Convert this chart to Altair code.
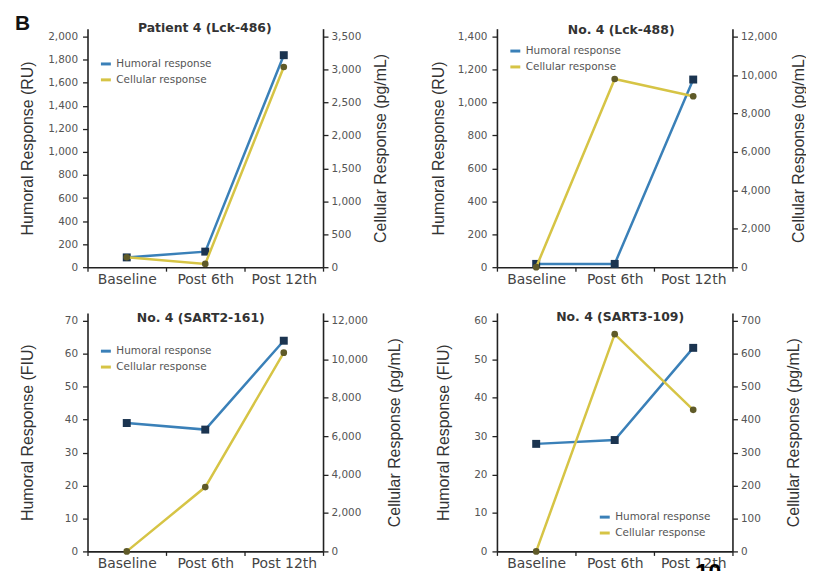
import altair as alt
import pandas as pd

# ---------------- data ----------------
time = ["Baseline", "Post 6th", "Post 12th"]

p1_title = "Patient 4 (Lck-486)"
p1_humoral = [85, 135, 1840]
p1_cellular = [150, 50, 3040]
p1_left_ticks = [0, 200, 400, 600, 800, 1000, 1200, 1400, 1600, 1800, 2000]
p1_right_ticks = [0, 500, 1000, 1500, 2000, 2500, 3000, 3500]

p2_title = "No. 4 (Lck-488)"
p2_humoral = [20, 20, 1140]
p2_cellular = [0, 9800, 8900]
p2_left_ticks = [0, 200, 400, 600, 800, 1000, 1200, 1400]
p2_right_ticks = [0, 2000, 4000, 6000, 8000, 10000, 12000]

p3_title = "No. 4 (SART2-161)"
p3_humoral = [39, 37, 64]
p3_cellular = [0, 3350, 10350]
p3_left_ticks = [0, 10, 20, 30, 40, 50, 60, 70]
p3_right_ticks = [0, 2000, 4000, 6000, 8000, 10000, 12000]

p4_title = "No. 4 (SART3-109)"
p4_humoral = [28, 29, 53]
p4_cellular = [0, 660, 430]
p4_left_ticks = [0, 10, 20, 30, 40, 50, 60]
p4_right_ticks = [0, 100, 200, 300, 400, 500, 600, 700]

series = ["Humoral response", "Cellular response"]
series_colors = ["#3a80b8", "#d6c445"]

W, H = 237, 240
FONT = "DejaVu Sans"
TITLE_FONT = "Liberation Sans, Arial, sans-serif"
TOP = 1.035


def panel(title, hum, cel, lt_title, lt_ticks, rt_ticks, ltx, rtx,
          tdx, tdy, legx, legy, extras=()):
    df = pd.DataFrame({"time": time, "hum": hum, "cel": cel})
    base = alt.Chart(df)
    xenc = alt.X(
        "time:N",
        scale=alt.Scale(type="band", domain=time, paddingInner=0, paddingOuter=0),
        axis=alt.Axis(title=None, tickBand="extent", labelAngle=0,
                      labelFont=FONT, labelFontSize=14, labelColor="#444",
                      tickSize=4, labelPadding=1),
    )
    leg = alt.Legend(title=None, orient="none", legendX=legx, legendY=legy,
                     symbolType="stroke", symbolStrokeWidth=3, symbolSize=100,
                     labelFont=FONT, labelFontSize=10.5, labelColor="#555",
                     rowPadding=3, labelOffset=4, padding=0, labelLimit=300)
    cscale = alt.Scale(domain=series, range=series_colors)

    yl = alt.Y("hum:Q",
               scale=alt.Scale(domain=[0, lt_ticks[-1] * TOP], nice=False),
               axis=alt.Axis(title=lt_title, orient="left", values=lt_ticks,
                             format=",d", titleX=ltx, titleY=H / 2,
                             titleAngle=270, titleBaseline="middle",
                             titleAlign="center"))
    yr = alt.Y("cel:Q",
               scale=alt.Scale(domain=[0, rt_ticks[-1] * TOP], nice=False),
               axis=alt.Axis(title="Cellular Response (pg/mL)", orient="right",
                             values=rt_ticks, format=",d", titleX=rtx,
                             titleY=H / 2, titleAngle=270,
                             titleBaseline="middle", titleAlign="center",
                             labelPadding=3))

    hum_line = base.transform_calculate(s="'Humoral response'").mark_line(
        strokeWidth=2.5).encode(x=xenc, y=yl,
                                color=alt.Color("s:N", scale=cscale, legend=leg))
    hum_pts = base.mark_square(size=64, color="#1b3450", opacity=1).encode(x=xenc, y=yl)
    cel_line = base.transform_calculate(s="'Cellular response'").mark_line(
        strokeWidth=2.5).encode(x=xenc, y=yr,
                                color=alt.Color("s:N", scale=cscale, legend=leg))
    cel_pts = base.mark_circle(size=45, color="#5f5a28", opacity=1).encode(x=xenc, y=yr)

    ttl = alt.Chart(pd.DataFrame({"t": [title]})).mark_text(
        font=FONT, fontSize=12.5, fontWeight="bold", color="#333",
        align="center", baseline="alphabetic").encode(
        text="t:N", x=alt.value(tdx), y=alt.value(tdy))

    return alt.layer(alt.layer(hum_line, hum_pts), alt.layer(cel_line, cel_pts),
                     ttl, *extras).resolve_scale(y="independent").properties(
        width=W, height=H)


letter_b = alt.Chart(pd.DataFrame({"t": ["B"]})).mark_text(
    font=TITLE_FONT, fontSize=21, fontWeight="bold", color="#111",
    align="left", baseline="alphabetic").encode(
    text="t:N", x=alt.value(-73), y=alt.value(1))

page_no = alt.Chart(pd.DataFrame({"t": ["10"]})).mark_text(
    font=TITLE_FONT, fontSize=23, fontWeight="bold", color="#000",
    align="left", baseline="alphabetic").encode(
    text="t:N", x=alt.value(200), y=alt.value(268))

p1 = panel(p1_title, p1_humoral, p1_cellular, "Humoral Response (RU)",
           p1_left_ticks, p1_right_ticks, -60, 58, 118, 3, 12, 29,
           extras=(letter_b,))
p2 = panel(p2_title, p2_humoral, p2_cellular, "Humoral Response (RU)",
           p2_left_ticks, p2_right_ticks, -59, 66, 125, 5, 12, 16)
p3 = panel(p3_title, p3_humoral, p3_cellular, "Humoral Response (FIU)",
           p3_left_ticks, p3_right_ticks, -60, 72, 114, 9, 12, 32)
p4 = panel(p4_title, p4_humoral, p4_cellular, "Humoral Response (FIU)",
           p4_left_ticks, p4_right_ticks, -54, 61, 124, 8, 102, 199,
           extras=(page_no,))

chart = alt.concat(p1, p2, p3, p4, columns=2,
                   spacing={"row": 46, "column": 175}, bounds="flush").resolve_scale(
    x="independent", y="independent", color="independent"
).properties(padding={"left": 7, "top": 3, "right": 0, "bottom": 0}).configure_view(
    stroke=None
).configure_axis(
    grid=False, domainColor="#222", domainWidth=1.6, tickColor="#222",
    tickWidth=1.3, tickSize=5, labelFont=FONT, labelFontSize=10.5,
    labelColor="#555", labelPadding=5, titleFont=TITLE_FONT, titleFontSize=16,
    titleFontWeight="normal", titleColor="#333"
)

chart.save("out.html", embed_options={"renderer": "svg", "actions": False})
